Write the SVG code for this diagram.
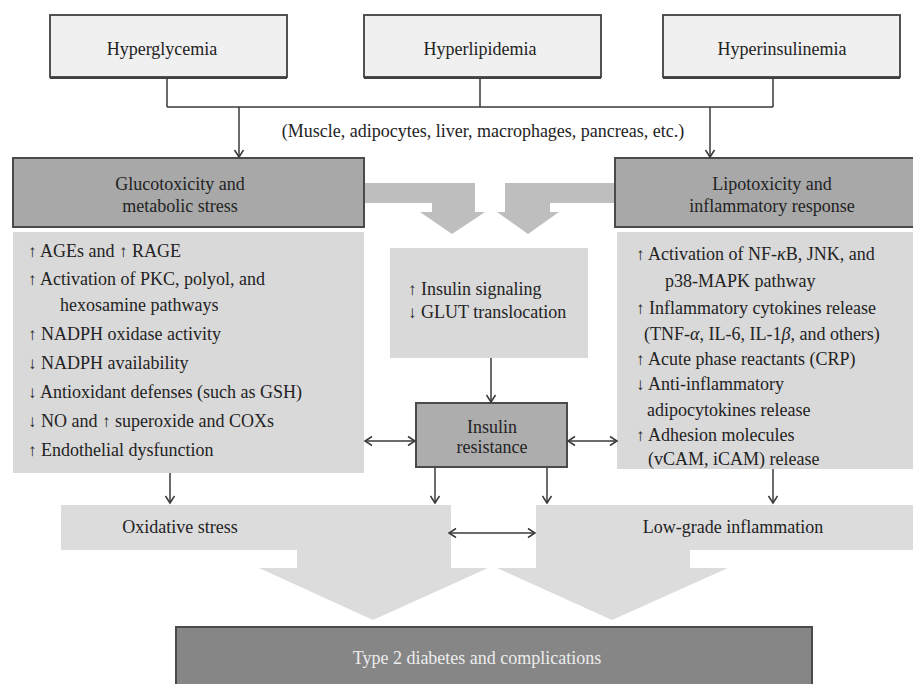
<svg xmlns="http://www.w3.org/2000/svg" width="913" height="684" viewBox="0 0 913 684" font-family="'Liberation Serif', 'DejaVu Serif', serif" font-size="18">
<defs>
<style>
text { font-family: 'Liberation Serif', 'DejaVu Serif', serif; font-size: 18px; fill: #232323; }
.c { text-anchor: middle; }
.ar { font-size: 17px; }
.top { fill: #f0f0f0; stroke: #404040; stroke-width: 1.8; }
.shadow { stroke: #404040; stroke-width: 2; fill: none; }
.dark { fill: #a8a8a8; stroke: #4a4a4a; stroke-width: 2; }
.list { fill: #d9d9d9; }
.bigup { fill: #bebebe; }
.band { fill: #dcdcdc; }
.ln { stroke: #3a3a3a; stroke-width: 1.5; fill: none; }
.t2 { fill: #868686; stroke: #4a4a4a; stroke-width: 2; }
.wt { fill: #ececec; }
.it { font-style: italic; }
</style>
<marker id="ah" markerWidth="12" markerHeight="12" refX="10" refY="6" orient="auto-start-reverse" markerUnits="userSpaceOnUse">
<path d="M3,1.5 L10,6 L3,10.5" fill="none" stroke="#3a3a3a" stroke-width="1.5"/>
</marker>
</defs>
<rect width="913" height="684" fill="#ffffff"/>

<g id="hyperglycemia">
<rect class="top" x="50" y="15" width="237" height="62"/>
<path class="shadow" d="M50,78 H287"/>
<text class="c" x="162" y="55">Hyperglycemia</text>
</g>
<g id="hyperlipidemia">
<rect class="top" x="364" y="15" width="237" height="62"/>
<path class="shadow" d="M364,78 H601"/>
<text class="c" x="480" y="55">Hyperlipidemia</text>
</g>
<g id="hyperinsulinemia">
<rect class="top" x="663" y="15" width="237" height="62"/>
<path class="shadow" d="M663,78 H900"/>
<text class="c" x="782" y="55">Hyperinsulinemia</text>
</g>

<g id="tissues-label">
<text class="c" x="483" y="137">(Muscle, adipocytes, liver, macrophages, pancreas, etc.)</text>
</g>

<g id="big-arrows-top">
<path class="bigup" d="M362,183 H475 V212 H485 L452,234 L420,212 H432 V203 H362 Z"/>
<path class="bigup" d="M615,183 H505 V212 H497 L528,234 L559,212 H550 V203 H615 Z"/>
</g>

<g id="glucotoxicity">
<rect class="dark" x="13" y="158" width="351" height="69"/>
<text class="c" x="180" y="190">Glucotoxicity and</text>
<text class="c" x="180" y="212">metabolic stress</text>
</g>
<g id="lipotoxicity">
<rect class="dark" x="615" y="158" width="300" height="69"/>
<text class="c" x="772" y="190">Lipotoxicity and</text>
<text class="c" x="772" y="212">inflammatory response</text>
</g>

<g id="gluco-list">
<rect class="list" x="13" y="232" width="351" height="241"/>
<text x="28" y="257"><tspan class="ar">↑</tspan> AGEs and <tspan class="ar">↑</tspan> RAGE</text>
<text x="28" y="285"><tspan class="ar">↑</tspan> Activation of PKC, polyol, and</text>
<text x="60" y="311">hexosamine pathways</text>
<text x="28" y="340"><tspan class="ar">↑</tspan> NADPH oxidase activity</text>
<text x="28" y="369"><tspan class="ar">↓</tspan> NADPH availability</text>
<text x="28" y="398"><tspan class="ar">↓</tspan> Antioxidant defenses (such as GSH)</text>
<text x="28" y="427"><tspan class="ar">↓</tspan> NO and <tspan class="ar">↑</tspan> superoxide and COXs</text>
<text x="28" y="456"><tspan class="ar">↑</tspan> Endothelial dysfunction</text>
</g>

<g id="insulin-signaling">
<rect class="list" x="390" y="248" width="198" height="110"/>
<text x="408" y="295"><tspan class="ar">↑</tspan> Insulin signaling</text>
<text x="408" y="318"><tspan class="ar">↓</tspan> GLUT translocation</text>
</g>

<g id="lipo-list">
<rect class="list" x="617" y="232" width="298" height="237"/>
<text x="636" y="260"><tspan class="ar">↑</tspan> Activation of NF-<tspan class="it">κ</tspan>B, JNK, and</text>
<text x="665" y="287">p38-MAPK pathway</text>
<text x="636" y="314"><tspan class="ar">↑</tspan> Inflammatory cytokines release</text>
<text x="644" y="340">(TNF-<tspan class="it">α</tspan>, IL-6, IL-1<tspan class="it">β</tspan>, and others)</text>
<text x="636" y="365"><tspan class="ar">↑</tspan> Acute phase reactants (CRP)</text>
<text x="636" y="390"><tspan class="ar">↓</tspan> Anti-inflammatory</text>
<text x="647" y="416">adipocytokines release</text>
<text x="636" y="441"><tspan class="ar">↑</tspan> Adhesion molecules</text>
<text x="648" y="465">(vCAM, iCAM) release</text>
</g>

<g id="insulin-resistance">
<rect class="dark" x="416" y="403" width="151" height="64" style="fill:#adadad"/>
<text class="c" x="492" y="433">Insulin</text>
<text class="c" x="492" y="453">resistance</text>
</g>

<g id="big-arrows-bottom">
<path class="band" d="M61,505 H451 V568 H488 L373,620 L259,568 H297 V550 H61 Z"/>
<path class="band" d="M914,505 H536 V568 H497 L612,620 L728,568 H690 V550 H914 Z"/>
</g>

<g id="oxidative-stress">
<text class="c" x="180" y="533">Oxidative stress</text>
</g>
<g id="low-grade-inflammation">
<text class="c" x="733" y="533">Low-grade inflammation</text>
</g>

<g id="type2">
<rect class="t2" x="176" y="627" width="636" height="70"/>
<text class="c wt" x="477" y="664">Type 2 diabetes and complications</text>
</g>

<g id="connectors">
<path class="ln" d="M167,78 V107 M480,78 V107 M773,78 V107 M167,107 H773"/>
<path class="ln" d="M239,107 V157" marker-end="url(#ah)"/>
<path class="ln" d="M710,107 V157" marker-end="url(#ah)"/>
<path class="ln" d="M491,358 V402" marker-end="url(#ah)"/>
<path class="ln" d="M365,441 H415" marker-start="url(#ah)" marker-end="url(#ah)"/>
<path class="ln" d="M568,441 H617" marker-start="url(#ah)" marker-end="url(#ah)"/>
<path class="ln" d="M170,473 V503" marker-end="url(#ah)"/>
<path class="ln" d="M435,468 V503" marker-end="url(#ah)"/>
<path class="ln" d="M547,468 V503" marker-end="url(#ah)"/>
<path class="ln" d="M773,469 V503" marker-end="url(#ah)"/>
<path class="ln" d="M449,533 H535" marker-start="url(#ah)" marker-end="url(#ah)"/>
</g>
</svg>
